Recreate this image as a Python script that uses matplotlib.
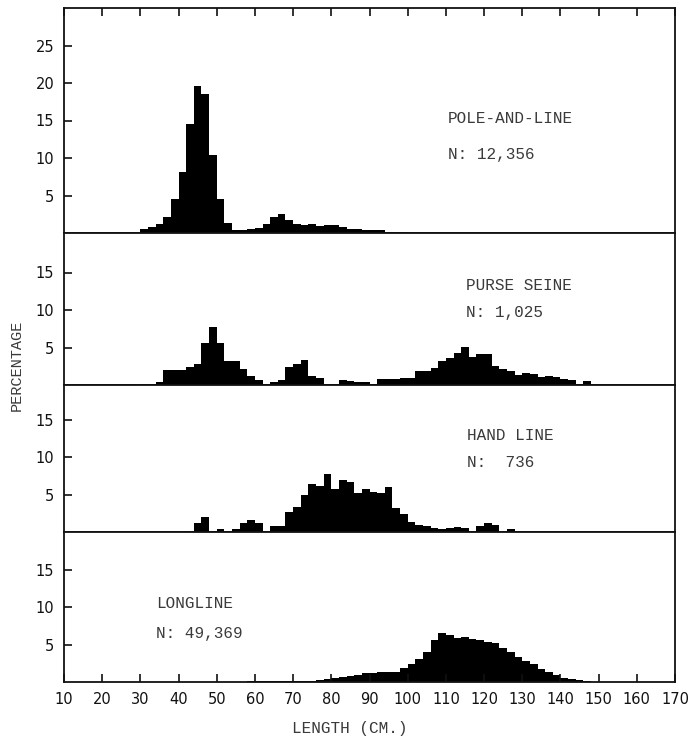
import numpy as np
import matplotlib
matplotlib.use("Agg")
import matplotlib.pyplot as plt

# percentage per 2-cm length class, keyed by the left edge of the class
pole_start = 30
pole_pct = [0.5, 0.75, 1.25, 2.1, 4.5, 8.1, 14.5, 19.6, 18.5, 10.4,
            4.6, 1.3, 0.4, 0.4, 0.5, 0.65, 1.15, 2.2, 2.5, 1.7,
            1.2, 1.05, 1.25, 0.95, 1.05, 1.05, 0.85, 0.6, 0.6, 0.4,
            0.4, 0.4, 0.2, 0.2, 0.2]

purse_start = 30
purse_pct = [0.2, 0.2, 0.45, 1.95, 1.95, 2.0, 2.35, 2.8, 5.55, 7.8,
             5.55, 3.15, 3.25, 2.1, 1.2, 0.65, 0.1, 0.45, 0.65, 2.35,
             2.75, 3.3, 1.2, 0.9, 0.1, 0.1, 0.65, 0.5, 0.45, 0.4,
             0.2, 0.85, 0.85, 0.85, 0.9, 0.95, 1.9, 1.9, 2.3, 3.2,
             3.55, 4.3, 5.1, 3.8, 4.2, 4.1, 2.5, 2.2, 1.9, 1.4,
             1.55, 1.45, 1.1, 1.25, 1.1, 0.85, 0.7, 0.1, 0.6]

hand_start = 42
hand_pct = [0.2, 1.15, 1.95, 0.2, 0.4, 0.0, 0.45, 1.15, 1.55, 1.25,
            0.0, 0.85, 0.85, 2.7, 3.3, 4.9, 6.35, 6.1, 7.7, 5.7,
            6.9, 6.7, 5.15, 5.7, 5.3, 5.15, 6.05, 3.15, 2.4, 1.3,
            0.9, 0.8, 0.53, 0.4, 0.53, 0.62, 0.6, 0.2, 0.8, 1.25,
            1.0, 0.0, 0.35]

long_start = 56
long_pct = [0.05, 0.08, 0.1, 0.1, 0.1, 0.12, 0.12, 0.15, 0.15, 0.2,
            0.3, 0.45, 0.55, 0.65, 0.85, 1.0, 1.15, 1.2, 1.3, 1.3,
            1.4, 1.9, 2.35, 3.05, 4.05, 5.6, 6.5, 6.25, 5.9, 6.05,
            5.8, 5.6, 5.3, 5.15, 4.5, 3.95, 3.4, 2.85, 2.35, 1.8,
            1.4, 0.95, 0.6, 0.45, 0.27, 0.13, 0.05, 0.05, 0.05]

gear_names = ["POLE-AND-LINE", "PURSE SEINE", "HAND LINE", "LONGLINE"]
gear_n = ["N: 12,356", "N: 1,025", "N:  736", "N: 49,369"]

x_ticks = list(range(10, 171, 10))
y_ticks_top = [5, 10, 15, 20, 25]
y_ticks = [5, 10, 15]

panels = [(pole_start, pole_pct), (purse_start, purse_pct),
          (hand_start, hand_pct), (long_start, long_pct)]

# panel heights in px (7.5 px per percent)
heights = [225, 152, 147, 150]
label_pos = [(110.5, 15.3, 10.4), (115.2, 13.2, 9.6),
             (115.5, 12.9, 9.3), (34.0, 10.5, 6.5)]

fig = plt.figure(figsize=(6.89, 7.40), dpi=100)
gs = fig.add_gridspec(4, 1, height_ratios=heights, hspace=0,
                      left=64 / 689, right=675 / 689,
                      bottom=1 - 682 / 740, top=1 - 8 / 740)

mono = "Liberation Mono"
txt_col = "#3a3a3a"

for i, (start, pct) in enumerate(panels):
    ax = fig.add_subplot(gs[i])
    edges = start + 2 * np.arange(len(pct))
    ax.bar(edges, pct, width=2, align="edge", color="black", linewidth=0)
    ax.set_xlim(10, 170)
    ax.set_ylim(0, heights[i] / 7.5)
    ax.set_yticks(y_ticks_top if i == 0 else y_ticks)
    ax.set_xticks(x_ticks)
    for s in ax.spines.values():
        s.set_linewidth(1.3)
        s.set_color("#111111")
    ax.tick_params(axis="y", direction="in", length=6, width=1.2,
                   labelsize=10.5, pad=7, colors="#111111")
    ax.tick_params(axis="x", direction="in", length=6, width=1.2,
                   labelsize=10.5, pad=7, colors="#111111",
                   bottom=(i == 3), top=(i == 0),
                   labelbottom=(i == 3), labeltop=False)

    lx, ly1, ly2 = label_pos[i]
    ax.text(lx, ly1, gear_names[i], family=mono, fontsize=11.5,
            color=txt_col, va="center", ha="left")
    ax.text(lx, ly2, gear_n[i], family=mono, fontsize=11.5,
            color=txt_col, va="center", ha="left")

fig.text(17 / 689, 1 - 365 / 740, "PERCENTAGE", rotation=90,
         family=mono, fontsize=11, color=txt_col, ha="center", va="center")
fig.text(350 / 689, 1 - 728 / 740, "LENGTH (CM.)", family=mono,
         fontsize=11.5, color=txt_col, ha="center", va="center")

fig.savefig("out.png", dpi=100, facecolor="white")
